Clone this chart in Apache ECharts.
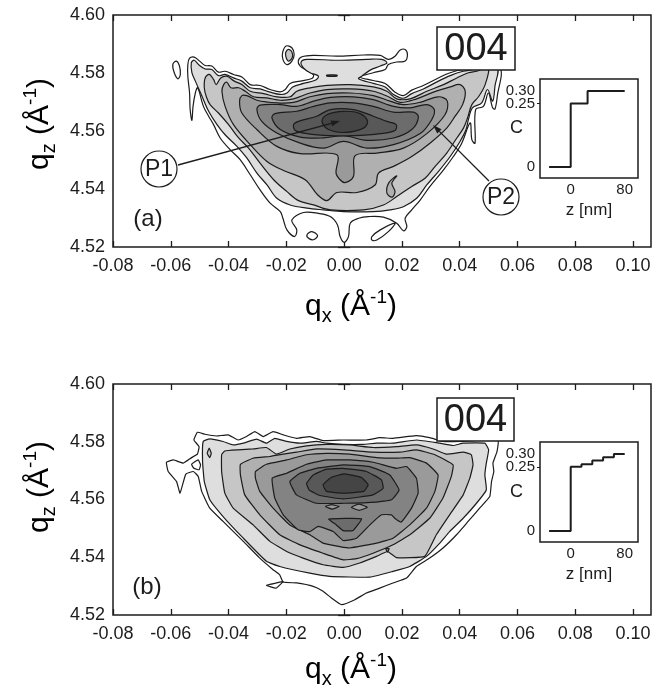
<!DOCTYPE html>
<html>
<head>
<meta charset="utf-8">
<style>
	html, body { margin: 0; padding: 0; background: #fff; }
	#chart { width: 672px; height: 693px; }
</style>
<script src="https://cdn.jsdelivr.net/npm/echarts@6/dist/echarts.min.js"></script>
</head>
<body>
<div id="chart"></div>
<script>
// tick values
var qxTicks = [-0.08, -0.06, -0.04, -0.02, 0, 0.02, 0.04, 0.06, 0.08, 0.10];
var qzTicks = [4.52, 4.54, 4.56, 4.58, 4.60];
var insetZTicks = [0, 80];
var insetCTicks = [0, 0.30];
// 0.25 sits too close to 0.30, echarts drops one of them on a single axis
var insetCMidTicks = [0.25];

// composition profiles of the insets
var profileAZ = [-32, 0, 0, 25, 25, 80];
var profileAC = [0, 0, 0.25, 0.25, 0.30, 0.30];
var profileBZ = [-32, 0, 0, 16, 16, 32, 32, 48, 48, 64, 64, 80];
var profileBC = [0, 0, 0.25, 0.25, 0.26, 0.26, 0.275, 0.275, 0.288, 0.288, 0.30, 0.30];

// panel (a) contours, [qx, qz], outermost first
var a0 = [[-0.0541,4.5829],[-0.0535,4.5851],[-0.0519,4.5855],[-0.0500,4.5841],[-0.0481,4.5826],[-0.0458,4.5824],[-0.0435,4.5803],[-0.0412,4.5806],[-0.0383,4.5795],[-0.0354,4.5786],[-0.0325,4.5760],[-0.0291,4.5757],[-0.0256,4.5743],[-0.0221,4.5735],[-0.0204,4.5743],[-0.0187,4.5764],[-0.0152,4.5772],[-0.0112,4.5781],[-0.0106,4.5793],[-0.0129,4.5809],[-0.0152,4.5824],[-0.0159,4.5841],[-0.0146,4.5856],[-0.0106,4.5861],[-0.0025,4.5858],[0.0067,4.5862],[0.0125,4.5861],[0.0153,4.5847],[0.0176,4.5858],[0.0194,4.5879],[0.0211,4.5881],[0.0219,4.5864],[0.0211,4.5841],[0.0182,4.5838],[0.0153,4.5829],[0.0142,4.5812],[0.0101,4.5801],[0.0055,4.5786],[0.0101,4.5774],[0.0142,4.5764],[0.0176,4.5734],[0.0205,4.5722],[0.0234,4.5741],[0.0274,4.5757],[0.0326,4.5783],[0.0367,4.5801],[0.0413,4.5812],[0.0537,4.5818],[0.0530,4.5720],[0.0522,4.5676],[0.0514,4.5680],[0.0499,4.5731],[0.0482,4.5685],[0.0455,4.5674],[0.0453,4.5558],[0.0442,4.5570],[0.0436,4.5628],[0.0407,4.5558],[0.0378,4.5512],[0.0344,4.5466],[0.0297,4.5409],[0.0263,4.5362],[0.0234,4.5328],[0.0211,4.5299],[0.0217,4.5270],[0.0205,4.5256],[0.0182,4.5282],[0.0136,4.5303],[0.0084,4.5305],[0.0050,4.5299],[0.0021,4.5282],[0.0015,4.5236],[0,4.5216],[-0.0014,4.5236],[-0.0023,4.5276],[-0.0048,4.5305],[-0.0089,4.5316],[-0.0141,4.5319],[-0.0181,4.5293],[-0.0164,4.5259],[-0.0172,4.5236],[-0.0198,4.5259],[-0.0212,4.5299],[-0.0221,4.5322],[-0.0256,4.5351],[-0.0291,4.5397],[-0.0325,4.5449],[-0.0360,4.5501],[-0.0394,4.5535],[-0.0429,4.5576],[-0.0452,4.5622],[-0.0469,4.5651],[-0.0487,4.5685],[-0.0507,4.5749],[-0.0515,4.5731],[-0.0523,4.5685],[-0.0527,4.5637],[-0.0533,4.5674],[-0.0535,4.5731],[-0.0541,4.5789]];
var a1 = [[-0.0529,4.5835],[-0.0519,4.5844],[-0.0504,4.5829],[-0.0481,4.5814],[-0.0458,4.5812],[-0.0435,4.5791],[-0.0412,4.5795],[-0.0383,4.5783],[-0.0354,4.5772],[-0.0325,4.5749],[-0.0291,4.5745],[-0.0256,4.5734],[-0.0221,4.5726],[-0.0198,4.5731],[-0.0178,4.5752],[-0.0141,4.5764],[-0.0100,4.5775],[-0.0089,4.5789],[-0.0118,4.5801],[-0.0141,4.5818],[-0.0149,4.5838],[-0.0129,4.5847],[-0.0025,4.5844],[0.0078,4.5847],[0.0130,4.5847],[0.0148,4.5835],[0.0125,4.5824],[0.0090,4.5810],[0.0061,4.5789],[0.0050,4.5780],[0.0101,4.5764],[0.0142,4.5752],[0.0171,4.5726],[0.0205,4.5713],[0.0234,4.5729],[0.0274,4.5745],[0.0326,4.5772],[0.0367,4.5791],[0.0413,4.5806],[0.0528,4.5818],[0.0522,4.5755],[0.0514,4.5703],[0.0496,4.5743],[0.0476,4.5697],[0.0444,4.5680],[0.0430,4.5639],[0.0422,4.5605],[0.0401,4.5564],[0.0367,4.5512],[0.0326,4.5460],[0.0286,4.5414],[0.0251,4.5368],[0.0205,4.5339],[0.0159,4.5328],[0.0101,4.5322],[-0.0002,4.5322],[-0.0071,4.5328],[-0.0129,4.5334],[-0.0187,4.5345],[-0.0233,4.5368],[-0.0267,4.5414],[-0.0302,4.5455],[-0.0337,4.5507],[-0.0371,4.5547],[-0.0412,4.5587],[-0.0440,4.5622],[-0.0469,4.5668],[-0.0492,4.5720],[-0.0515,4.5772],[-0.0527,4.5801]];
var a2 = [[-0.0484,4.5749],[-0.0481,4.5783],[-0.0467,4.5795],[-0.0452,4.5778],[-0.0443,4.5760],[-0.0427,4.5783],[-0.0406,4.5789],[-0.0380,4.5772],[-0.0354,4.5760],[-0.0325,4.5737],[-0.0279,4.5729],[-0.0233,4.5718],[-0.0187,4.5718],[-0.0164,4.5737],[-0.0118,4.5749],[-0.0060,4.5757],[0.0021,4.5760],[0.0101,4.5752],[0.0148,4.5737],[0.0182,4.5711],[0.0228,4.5711],[0.0286,4.5737],[0.0344,4.5760],[0.0390,4.5783],[0.0430,4.5801],[0.0459,4.5806],[0.0499,4.5818],[0.0488,4.5760],[0.0465,4.5718],[0.0442,4.5691],[0.0427,4.5645],[0.0413,4.5610],[0.0390,4.5576],[0.0355,4.5524],[0.0315,4.5478],[0.0280,4.5437],[0.0234,4.5409],[0.0182,4.5374],[0.0136,4.5345],[0.0067,4.5328],[-0.0048,4.5328],[-0.0106,4.5345],[-0.0158,4.5360],[-0.0198,4.5391],[-0.0244,4.5432],[-0.0291,4.5489],[-0.0331,4.5541],[-0.0365,4.5576],[-0.0400,4.5622],[-0.0435,4.5662],[-0.0464,4.5691],[-0.0477,4.5718]];
var a3 = [[-0.0423,4.5737],[-0.0417,4.5760],[-0.0406,4.5768],[-0.0392,4.5749],[-0.0365,4.5749],[-0.0342,4.5737],[-0.0314,4.5718],[-0.0267,4.5714],[-0.0221,4.5706],[-0.0175,4.5711],[-0.0118,4.5731],[-0.0060,4.5743],[0.0021,4.5745],[0.0101,4.5737],[0.0153,4.5718],[0.0194,4.5699],[0.0251,4.5711],[0.0309,4.5734],[0.0367,4.5752],[0.0401,4.5760],[0.0419,4.5737],[0.0410,4.5691],[0.0384,4.5651],[0.0355,4.5610],[0.0297,4.5558],[0.0234,4.5512],[0.0171,4.5478],[0.0119,4.5455],[0.0107,4.5414],[0.0044,4.5388],[-0.0025,4.5388],[-0.0060,4.5360],[-0.0092,4.5380],[-0.0135,4.5432],[-0.0210,4.5464],[-0.0267,4.5495],[-0.0325,4.5553],[-0.0383,4.5622],[-0.0412,4.5685]];
var a4 = [[-0.0362,4.5703],[-0.0354,4.5722],[-0.0337,4.5722],[-0.0302,4.5706],[-0.0233,4.5697],[-0.0175,4.5699],[-0.0118,4.5718],[-0.0060,4.5729],[0.0021,4.5731],[0.0101,4.5722],[0.0159,4.5703],[0.0205,4.5691],[0.0263,4.5699],[0.0326,4.5718],[0.0357,4.5703],[0.0349,4.5656],[0.0286,4.5591],[0.0205,4.5541],[0.0113,4.5524],[0.0038,4.5515],[0.0032,4.5443],[0.0003,4.5422],[-0.0014,4.5432],[-0.0028,4.5455],[-0.0025,4.5518],[-0.0152,4.5522],[-0.0233,4.5547],[-0.0302,4.5605],[-0.0354,4.5662]];
var a5 = [[-0.0302,4.5674],[-0.0291,4.5689],[-0.0221,4.5691],[-0.0164,4.5685],[-0.0106,4.5703],[-0.0048,4.5716],[0.0032,4.5718],[0.0101,4.5708],[0.0171,4.5685],[0.0228,4.5680],[0.0286,4.5691],[0.0312,4.5674],[0.0303,4.5639],[0.0263,4.5591],[0.0171,4.5553],[0.0078,4.5541],[-0.0002,4.5564],[-0.0071,4.5541],[-0.0152,4.5558],[-0.0233,4.5593],[-0.0285,4.5633]];
var a6 = [[-0.0250,4.5645],[-0.0239,4.5660],[-0.0164,4.5668],[-0.0106,4.5685],[-0.0048,4.5697],[0.0032,4.5697],[0.0101,4.5685],[0.0171,4.5665],[0.0240,4.5665],[0.0257,4.5648],[0.0234,4.5605],[0.0171,4.5576],[0.0078,4.5568],[-0.0002,4.5584],[-0.0071,4.5576],[-0.0152,4.5579],[-0.0221,4.5605]];
var a7 = [[-0.0175,4.5622],[-0.0158,4.5633],[-0.0095,4.5651],[-0.0048,4.5674],[0.0032,4.5674],[0.0101,4.5651],[0.0148,4.5633],[0.0180,4.5622],[0.0176,4.5602],[0.0125,4.5591],[0.0032,4.5584],[-0.0048,4.5584],[-0.0129,4.5591],[-0.0169,4.5602]];
var a8 = [[-0.0077,4.5633],[-0.0060,4.5656],[-0.0002,4.5668],[0.0055,4.5660],[0.0081,4.5633],[0.0067,4.5610],[0.0003,4.5595],[-0.0054,4.5605]];
var aLeftIsland = [[-0.0593,4.5829],[-0.0581,4.5841],[-0.0570,4.5824],[-0.0567,4.5795],[-0.0575,4.5780],[-0.0588,4.5801]];
var aTopIsland = [[-0.0213,4.5870],[-0.0201,4.5893],[-0.0181,4.5887],[-0.0173,4.5864],[-0.0181,4.5841],[-0.0198,4.5829],[-0.0212,4.5847]];
var aTopIslandInner = [[-0.0203,4.5867],[-0.0194,4.5881],[-0.0181,4.5873],[-0.0180,4.5852],[-0.0194,4.5841]];
var aBottomIsland1 = [[-0.0129,4.5241],[-0.0112,4.5253],[-0.0092,4.5239],[-0.0104,4.5226],[-0.0120,4.5228]];
var aBottomIsland2 = [[0.0096,4.5236],[0.0125,4.5259],[0.0176,4.5282],[0.0153,4.5253],[0.0113,4.5224],[0.0096,4.5224]];
var aHook = [[0.0182,4.5445],[0.0155,4.5422],[0.0148,4.5386],[0.0166,4.5372],[0.0176,4.5391],[0.0165,4.5420]];
var aDash = [[-0.0060,4.5793],[-0.0025,4.5793],[-0.0025,4.5789],[-0.0060,4.5789]];

// panel (b) contours
var b0 = [[-0.0520,4.5806],[-0.0508,4.5833],[-0.0482,4.5826],[-0.0442,4.5820],[-0.0401,4.5824],[-0.0367,4.5806],[-0.0338,4.5818],[-0.0309,4.5835],[-0.0280,4.5818],[-0.0246,4.5835],[-0.0211,4.5824],[-0.0165,4.5812],[-0.0119,4.5818],[-0.0073,4.5804],[-0.0003,4.5806],[0.0077,4.5806],[0.0123,4.5814],[0.0169,4.5812],[0.0250,4.5821],[0.0296,4.5814],[0.0342,4.5801],[0.0400,4.5801],[0.0492,4.5806],[0.0533,4.5803],[0.0529,4.5766],[0.0515,4.5726],[0.0518,4.5697],[0.0510,4.5662],[0.0504,4.5610],[0.0469,4.5570],[0.0429,4.5524],[0.0389,4.5478],[0.0342,4.5432],[0.0296,4.5397],[0.0250,4.5368],[0.0216,4.5328],[0.0169,4.5311],[0.0123,4.5293],[0.0077,4.5276],[0.0037,4.5253],[-0.0009,4.5236],[-0.0044,4.5259],[-0.0073,4.5282],[-0.0107,4.5299],[-0.0165,4.5311],[-0.0211,4.5314],[-0.0223,4.5339],[-0.0246,4.5357],[-0.0292,4.5397],[-0.0349,4.5455],[-0.0419,4.5524],[-0.0465,4.5570],[-0.0493,4.5628],[-0.0505,4.5680],[-0.0522,4.5697],[-0.0548,4.5688],[-0.0568,4.5622],[-0.0580,4.5662],[-0.0609,4.5697],[-0.0615,4.5729],[-0.0591,4.5737],[-0.0557,4.5726],[-0.0528,4.5745],[-0.0508,4.5757],[-0.0502,4.5783]];
var b1 = [[-0.0488,4.5801],[-0.0465,4.5810],[-0.0419,4.5801],[-0.0384,4.5789],[-0.0349,4.5795],[-0.0303,4.5809],[-0.0269,4.5795],[-0.0240,4.5812],[-0.0199,4.5801],[-0.0153,4.5795],[-0.0096,4.5801],[-0.0061,4.5795],[-0.0003,4.5791],[0.0066,4.5791],[0.0112,4.5795],[0.0169,4.5795],[0.0250,4.5806],[0.0319,4.5797],[0.0377,4.5787],[0.0412,4.5795],[0.0487,4.5795],[0.0500,4.5772],[0.0492,4.5726],[0.0487,4.5685],[0.0492,4.5633],[0.0458,4.5587],[0.0412,4.5535],[0.0365,4.5489],[0.0331,4.5449],[0.0285,4.5403],[0.0227,4.5368],[0.0169,4.5351],[0.0089,4.5331],[-0.0050,4.5334],[-0.0119,4.5345],[-0.0223,4.5368],[-0.0269,4.5386],[-0.0349,4.5466],[-0.0419,4.5541],[-0.0465,4.5599],[-0.0484,4.5662],[-0.0490,4.5731]];
var b2 = [[-0.0424,4.5755],[-0.0413,4.5768],[-0.0367,4.5772],[-0.0315,4.5775],[-0.0269,4.5780],[-0.0234,4.5757],[-0.0188,4.5775],[-0.0130,4.5786],[-0.0061,4.5791],[0.0020,4.5789],[0.0100,4.5780],[0.0181,4.5783],[0.0250,4.5789],[0.0308,4.5775],[0.0354,4.5757],[0.0412,4.5764],[0.0440,4.5755],[0.0446,4.5720],[0.0435,4.5674],[0.0412,4.5616],[0.0365,4.5547],[0.0319,4.5478],[0.0279,4.5403],[0.0181,4.5399],[0.0150,4.5420],[0.0112,4.5403],[0.0054,4.5380],[-0.0003,4.5365],[-0.0073,4.5374],[-0.0142,4.5397],[-0.0199,4.5420],[-0.0257,4.5455],[-0.0315,4.5512],[-0.0384,4.5570],[-0.0413,4.5622],[-0.0424,4.5697]];
var b3 = [[-0.0359,4.5722],[-0.0315,4.5743],[-0.0257,4.5749],[-0.0211,4.5757],[-0.0165,4.5764],[-0.0096,4.5775],[-0.0003,4.5772],[0.0100,4.5764],[0.0193,4.5764],[0.0250,4.5772],[0.0314,4.5755],[0.0377,4.5720],[0.0371,4.5680],[0.0342,4.5605],[0.0296,4.5535],[0.0227,4.5478],[0.0169,4.5443],[0.0100,4.5414],[0.0043,4.5395],[-0.0003,4.5391],[-0.0073,4.5414],[-0.0153,4.5443],[-0.0223,4.5478],[-0.0292,4.5547],[-0.0344,4.5616],[-0.0359,4.5685]];
var b4 = [[-0.0307,4.5697],[-0.0269,4.5722],[-0.0199,4.5737],[-0.0130,4.5755],[-0.0061,4.5760],[0.0020,4.5757],[0.0112,4.5745],[0.0181,4.5743],[0.0227,4.5745],[0.0285,4.5726],[0.0325,4.5685],[0.0314,4.5628],[0.0285,4.5570],[0.0227,4.5512],[0.0169,4.5466],[0.0112,4.5449],[0.0020,4.5432],[-0.0015,4.5437],[-0.0073,4.5449],[-0.0119,4.5478],[-0.0188,4.5512],[-0.0246,4.5570],[-0.0292,4.5628],[-0.0307,4.5674]];
var b5 = [[-0.0249,4.5674],[-0.0199,4.5691],[-0.0130,4.5722],[-0.0061,4.5737],[0.0020,4.5737],[0.0100,4.5729],[0.0181,4.5708],[0.0216,4.5714],[0.0250,4.5674],[0.0256,4.5622],[0.0233,4.5570],[0.0198,4.5522],[0.0175,4.5535],[0.0164,4.5547],[0.0129,4.5547],[0.0089,4.5512],[0.0043,4.5466],[-0.0003,4.5458],[-0.0038,4.5489],[-0.0090,4.5507],[-0.0119,4.5489],[-0.0159,4.5495],[-0.0211,4.5547],[-0.0240,4.5605]];
var b6 = [[-0.0188,4.5662],[-0.0153,4.5691],[-0.0096,4.5708],[-0.0003,4.5720],[0.0089,4.5714],[0.0158,4.5685],[0.0190,4.5633],[0.0164,4.5599],[0.0112,4.5591],[-0.0003,4.5587],[-0.0096,4.5587],[-0.0165,4.5616]];
var b7 = [[-0.0130,4.5656],[-0.0107,4.5685],[-0.0061,4.5705],[-0.0003,4.5708],[0.0077,4.5697],[0.0129,4.5668],[0.0135,4.5639],[0.0100,4.5616],[-0.0003,4.5602],[-0.0084,4.5614],[-0.0121,4.5633]];
var b8 = [[-0.0073,4.5651],[-0.0044,4.5677],[0.0002,4.5689],[0.0060,4.5676],[0.0083,4.5651],[0.0068,4.5628],[-0.0003,4.5622],[-0.0061,4.5628]];
var bFlareLoop = [[-0.0528,4.5722],[-0.0505,4.5737],[-0.0497,4.5720],[-0.0502,4.5703],[-0.0520,4.5708]];
var bTail = [[-0.0269,4.5303],[-0.0234,4.5311],[-0.0211,4.5316],[-0.0236,4.5293]];
var bDiamond1 = [[-0.0065,4.5576],[-0.0044,4.5582],[-0.0017,4.5576],[-0.0042,4.5567]];
var bDiamond2 = [[0.0025,4.5573],[0.0051,4.5584],[0.0080,4.5573],[0.0052,4.5562]];
var bTrapezoid = [[-0.0053,4.5532],[0.0060,4.5533],[0.0031,4.5493],[-0.0003,4.5492],[-0.0027,4.5512]];
var bSmallLoop = [[-0.0474,4.5760],[-0.0467,4.5778],[-0.0460,4.5760],[-0.0465,4.5745]];
var bDot = [[0.0144,4.5430],[0.0156,4.5430],[0.0150,4.5418]];

// grey of each contour level
var levelColors = ['#ffffff', '#dedede', '#c6c6c6', '#b0b0b0', '#9a9a9a', '#838383', '#6c6c6c', '#585858', '#454545'];

// [contour, level] in painting order
var layersA = [[a0, 0], [aLeftIsland, 0], [aTopIsland, 0], [aTopIslandInner, 2], [aBottomIsland1, 0], [aBottomIsland2, 0],
	[a1, 1], [a2, 2], [aHook, 3], [a3, 3], [a4, 4], [a5, 5], [a6, 6], [a7, 7], [a8, 8], [aDash, 8]];
var layersB = [[b0, 0], [bFlareLoop, 0], [bTail, 0], [b1, 1], [bSmallLoop, 2], [b2, 2], [bDot, 5], [b3, 3], [b4, 4], [b5, 5],
	[bTrapezoid, 6], [bDiamond1, 4], [bDiamond2, 4], [b6, 6], [b7, 7], [b8, 8]];

var INK = '#1c1c1c';
var FONT = '"Liberation Sans", Arial, sans-serif';

function contourSeries(layers, axisIndex, smooth) {
	return {
		type: 'custom',
		coordinateSystem: 'cartesian2d',
		xAxisIndex: axisIndex,
		yAxisIndex: axisIndex,
		silent: true,
		animation: false,
		clip: true,
		data: layers.map(function (l, i) { return [i]; }),
		encode: { x: -1, y: -1 },
		renderItem: function (params, api) {
			var layer = layers[params.dataIndex];
			return {
				type: 'polygon',
				shape: {
					points: layer[0].map(function (p) { return api.coord(p); }),
					smooth: smooth
				},
				style: { fill: levelColors[layer[1]], stroke: INK, lineWidth: 1.2 }
			};
		}
	};
}

function mainXAxis(gridIndex, position, showLabel) {
	return {
		type: 'value', gridIndex: gridIndex, position: position,
		min: -0.08, max: 0.1062,
		splitLine: { show: false },
		axisLine: { show: false },
		axisTick: { inside: true, length: 6, customValues: qxTicks, lineStyle: { color: INK, width: 1.3 } },
		axisLabel: {
			show: showLabel, customValues: qxTicks, margin: 10,
			color: INK, fontFamily: FONT, fontSize: 18,
			formatter: function (v) { return v.toFixed(2); }
		}
	};
}

function mainYAxis(gridIndex, position, showLabel) {
	return {
		type: 'value', gridIndex: gridIndex, position: position,
		min: 4.52, max: 4.60,
		splitLine: { show: false },
		axisLine: { show: false },
		axisTick: { inside: true, length: 6, customValues: qzTicks, lineStyle: { color: INK, width: 1.3 } },
		axisLabel: {
			show: showLabel, customValues: qzTicks, margin: 8,
			color: INK, fontFamily: FONT, fontSize: 18,
			formatter: function (v) { return v.toFixed(2); }
		}
	};
}

function insetXAxis(gridIndex) {
	return {
		type: 'value', gridIndex: gridIndex,
		min: -45.5, max: 99.7,
		splitLine: { show: false },
		axisLine: { show: false },
		axisTick: { inside: true, length: 3, customValues: insetZTicks, lineStyle: { color: INK } },
		axisLabel: { customValues: insetZTicks, margin: 4, color: INK, fontFamily: FONT, fontSize: 15 },
		name: 'z [nm]', nameLocation: 'middle', nameGap: 24, nameMoveOverlap: false,
		nameTextStyle: { color: INK, fontFamily: FONT, fontSize: 17 }
	};
}

function insetYAxis(gridIndex, ticks) {
	return {
		type: 'value', gridIndex: gridIndex, position: 'left',
		min: -0.043, max: 0.347,
		splitLine: { show: false },
		axisLine: { show: false },
		axisTick: { length: 3, customValues: ticks, lineStyle: { color: INK } },
		axisLabel: {
			customValues: ticks, margin: 5, color: INK, fontFamily: FONT, fontSize: 15,
			formatter: function (v) { return v === 0 ? '0' : v.toFixed(2); }
		}
	};
}

function insetMainYAxis(gridIndex) {
	var axis = insetYAxis(gridIndex, insetCTicks);
	axis.name = 'C';
	axis.nameLocation = 'middle';
	axis.nameGap = 17;
	axis.nameRotate = 0;
	axis.nameMoveOverlap = false;
	axis.nameTextStyle = { color: INK, fontFamily: FONT, fontSize: 18 };
	return axis;
}

function profileSeries(zs, cs, axisIndex) {
	return {
		type: 'line',
		xAxisIndex: axisIndex,
		yAxisIndex: axisIndex,
		z: 10,
		data: zs.map(function (z, i) { return [z, cs[i]]; }),
		showSymbol: false,
		silent: true,
		animation: false,
		lineStyle: { color: INK, width: 2 }
	};
}

// rich label for the q axes
var axisRich = {
	a: { fontFamily: FONT, fontSize: 30, color: INK, lineHeight: 38 },
	s: { fontFamily: FONT, fontSize: 20, color: INK, verticalAlign: 'bottom', lineHeight: 38 },
	u: { fontFamily: FONT, fontSize: 19, color: INK, verticalAlign: 'top', lineHeight: 38 }
};

function axisTitle(text, x, y, rotated) {
	return {
		type: 'text', x: x, y: y, z: 100, silent: true,
		rotation: rotated ? Math.PI / 2 : 0,
		style: { text: text, rich: axisRich, align: 'center', verticalAlign: 'middle' }
	};
}

function plainText(text, x, y, size) {
	return {
		type: 'text', x: x, y: y, z: 100, silent: true,
		style: { text: text, fontFamily: FONT, fontSize: size, fill: INK, align: 'center', verticalAlign: 'middle' }
	};
}

function reflectionBox(x, y, w, h) {
	return [
		{ type: 'rect', z: 100, silent: true, shape: { x: x, y: y, width: w, height: h }, style: { fill: '#fff', stroke: INK, lineWidth: 1.5 } },
		plainText('004', x + w / 2, y + h / 2 + 1, 38)
	];
}

function peakLabel(text, x, y) {
	return [
		{ type: 'circle', z: 100, silent: true, shape: { cx: x, cy: y, r: 18 }, style: { fill: '#fff', stroke: INK, lineWidth: 1.2 } },
		plainText(text, x, y + 1, 23)
	];
}

function arrow(x1, y1, x2, y2) {
	var ang = Math.atan2(y2 - y1, x2 - x1);
	var len = 9, wid = 3;
	var bx = x2 - len * Math.cos(ang), by = y2 - len * Math.sin(ang);
	return [
		{ type: 'line', z: 99, silent: true, shape: { x1: x1, y1: y1, x2: bx, y2: by }, style: { stroke: INK, lineWidth: 1.3 } },
		{
			type: 'polygon', z: 99, silent: true,
			shape: { points: [[x2, y2], [bx - wid * Math.sin(ang), by + wid * Math.cos(ang)], [bx + wid * Math.sin(ang), by - wid * Math.cos(ang)]] },
			style: { fill: INK }
		}
	];
}

var QX = '{a|q}{s|x}{a| (Å}{u|-1}{a|)}';
var QZ = '{a|q}{s|z}{a| (Å}{u|-1}{a|)}';

var graphics = [].concat(
	axisTitle(QX, 351, 307, false),
	axisTitle(QX, 351, 670, false),
	axisTitle(QZ, 40, 124, true),
	axisTitle(QZ, 40, 487, true),
	plainText('(a)', 148, 219, 24),
	plainText('(b)', 147, 587, 24),
	reflectionBox(437, 27, 78, 43),
	reflectionBox(437, 398, 77, 43),
	arrow(178, 165, 340, 121),
	arrow(489, 181, 433, 125),
	peakLabel('P1', 159, 169),
	peakLabel('P2', 501, 197)
);

var chart = echarts.init(document.getElementById('chart'), null, { renderer: 'canvas' });
chart.setOption({
	backgroundColor: '#fff',
	animation: false,
	grid: [
		{ left: 113, top: 15, width: 538, height: 232, show: true, borderColor: INK, borderWidth: 1.5 },
		{ left: 113, top: 384, width: 538, height: 231, show: true, borderColor: INK, borderWidth: 1.5 },
		{ left: 540, top: 79, width: 98, height: 99, show: true, backgroundColor: '#fff', borderColor: INK, borderWidth: 1.5, z: 5 },
		{ left: 540, top: 442, width: 98, height: 100, show: true, backgroundColor: '#fff', borderColor: INK, borderWidth: 1.5, z: 5 }
	],
	xAxis: [
		mainXAxis(0, 'bottom', true), mainXAxis(1, 'bottom', true),
		insetXAxis(2), insetXAxis(3),
		mainXAxis(0, 'top', false), mainXAxis(1, 'top', false)
	],
	yAxis: [
		mainYAxis(0, 'left', true), mainYAxis(1, 'left', true),
		insetMainYAxis(2), insetMainYAxis(3),
		mainYAxis(0, 'right', false), mainYAxis(1, 'right', false),
		insetYAxis(2, insetCMidTicks), insetYAxis(3, insetCMidTicks)
	],
	series: [
		contourSeries(layersA, 0, 0.35),
		contourSeries(layersB, 1, 0.12),
		profileSeries(profileAZ, profileAC, 2),
		profileSeries(profileBZ, profileBC, 3)
	],
	graphic: graphics
});
</script>
</body>
</html>
